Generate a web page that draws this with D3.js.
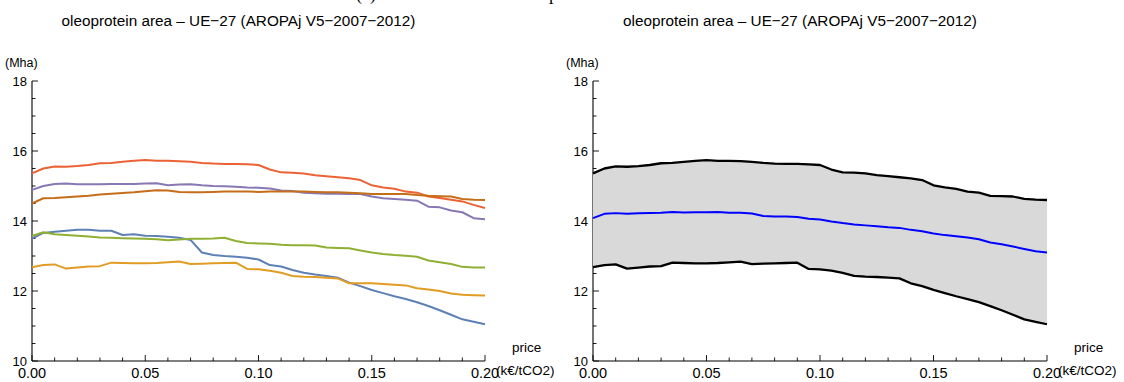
<!DOCTYPE html>
<html>
<head>
<meta charset="utf-8">
<script src="https://cdn.jsdelivr.net/npm/d3@7"></script>
<style>
  body { margin: 0; background: #fff; }
  svg { display: block; font-family: "Liberation Sans", Arial, sans-serif; }
</style>
</head>
<body>
<svg id="chart" width="1124" height="382"></svg>
<script>
// price grid (k€/tCO2)
const prices = d3.range(41).map(i => +(i * 0.005).toFixed(3));

// oleoprotein area (Mha) per model run
const blue = [13.50,13.66,13.69,13.72,13.75,13.75,13.72,13.72,13.60,13.62,13.58,13.57,13.55,13.52,13.46,13.10,13.03,13.00,12.98,12.95,12.90,12.74,12.70,12.60,12.52,12.47,12.43,12.38,12.24,12.14,12.03,11.94,11.85,11.77,11.68,11.57,11.45,11.32,11.19,11.12,11.05];
const orange = [12.68,12.74,12.76,12.64,12.67,12.70,12.71,12.81,12.80,12.79,12.79,12.80,12.82,12.84,12.77,12.78,12.79,12.80,12.81,12.63,12.62,12.58,12.52,12.43,12.41,12.40,12.38,12.36,12.22,12.22,12.22,12.20,12.18,12.16,12.08,12.04,12.00,11.93,11.89,11.88,11.87];
const green = [13.57,13.68,13.62,13.60,13.58,13.56,13.53,13.52,13.51,13.50,13.49,13.48,13.45,13.47,13.49,13.49,13.50,13.52,13.43,13.37,13.36,13.35,13.32,13.31,13.31,13.30,13.24,13.23,13.22,13.16,13.10,13.06,13.03,13.01,12.98,12.87,12.82,12.77,12.69,12.67,12.67];
const red = [15.36,15.50,15.56,15.55,15.57,15.60,15.65,15.66,15.69,15.72,15.74,15.72,15.72,15.71,15.69,15.66,15.64,15.63,15.63,15.62,15.60,15.47,15.39,15.38,15.36,15.31,15.28,15.25,15.22,15.17,15.02,14.96,14.92,14.84,14.81,14.70,14.66,14.61,14.56,14.46,14.37];
const purple = [14.89,15.00,15.06,15.07,15.05,15.05,15.05,15.06,15.06,15.06,15.07,15.08,15.02,15.04,15.05,15.02,15.00,14.99,14.98,14.96,14.95,14.93,14.87,14.86,14.81,14.79,14.78,14.78,14.77,14.77,14.70,14.65,14.63,14.61,14.58,14.41,14.39,14.30,14.25,14.08,14.05];
const darkOrange = [14.50,14.65,14.66,14.68,14.70,14.72,14.76,14.78,14.80,14.82,14.85,14.88,14.87,14.83,14.82,14.82,14.83,14.84,14.84,14.84,14.83,14.84,14.84,14.84,14.84,14.83,14.82,14.82,14.81,14.79,14.77,14.77,14.77,14.77,14.74,14.72,14.71,14.70,14.63,14.61,14.60];

const series = [blue, orange, green, red, purple, darkOrange];
const colors = ["#5e81b5", "#e19c24", "#8fb032", "#eb6235", "#8778b3", "#c56e1a"];

const xTicks = [0, 0.05, 0.10, 0.15, 0.20];
const yTicks = [10, 12, 14, 16, 18];
const title = "oleoprotein area \u2013 UE\u221227 (AROPAj V5\u22122007\u22122012)";

const svg = d3.select("#chart");

// fragments of the caption line above the figure
svg.append("text").attr("x", 356).attr("y", 0).attr("font-family", "Liberation Serif, serif")
  .attr("font-size", 18).text("(a)");
svg.append("text").attr("x", 549).attr("y", 0).attr("font-family", "Liberation Serif, serif")
  .attr("font-size", 18).text("p");

function panel(left, right) {
  const x = d3.scaleLinear().domain([0, 0.2]).range([left, right]);
  const y = d3.scaleLinear().domain([10, 18]).range([361, 81]);
  const g = svg.append("g");

  g.append("text")
    .attr("x", (left + right) / 2 - 20).attr("y", 26)
    .attr("text-anchor", "middle").attr("font-size", 15.3)
    .text(title);

  // x axis
  const xa = g.append("g").attr("transform", `translate(0,${y(10)})`);
  xa.append("line").attr("x1", x(0)).attr("x2", x(0.2)).attr("stroke", "#000").attr("stroke-width", 1.1);
  xa.selectAll("line.minor").data(d3.range(21).map(i => i * 0.01)).join("line")
    .attr("class", "minor")
    .attr("x1", d => x(d)).attr("x2", d => x(d))
    .attr("y1", 0).attr("y2", (d, i) => i % 5 === 0 ? -6 : -3.5)
    .attr("stroke", "#000").attr("stroke-width", 0.9);
  xa.selectAll("text").data(xTicks).join("text")
    .attr("x", d => x(d)).attr("y", 17)
    .attr("text-anchor", "middle").attr("font-size", 14.5)
    .text(d => d3.format(".2f")(d));

  // y axis
  const ya = g.append("g").attr("transform", `translate(${x(0)},0)`);
  ya.append("line").attr("y1", y(10)).attr("y2", y(18)).attr("stroke", "#000").attr("stroke-width", 1.1);
  ya.selectAll("line.minor").data(d3.range(17).map(i => 10 + i * 0.5)).join("line")
    .attr("class", "minor")
    .attr("y1", d => y(d)).attr("y2", d => y(d))
    .attr("x1", 0).attr("x2", (d, i) => i % 4 === 0 ? 6 : 3.5)
    .attr("stroke", "#000").attr("stroke-width", 0.9);
  ya.selectAll("text").data(yTicks).join("text")
    .attr("x", -5).attr("y", d => y(d) + 4.5)
    .attr("text-anchor", "end").attr("font-size", 13)
    .text(d => d);

  g.append("text").attr("x", x(0) - 27).attr("y", 67).attr("font-size", 12.5).text("(Mha)");
  g.append("text").attr("x", x(0.2) + 27).attr("y", 352).attr("font-size", 13.5).text("price");
  g.append("text").attr("x", x(0.2) + 11).attr("y", 375).attr("font-size", 13.5).text("(k\u20ac/tCO2)");

  return { g, x, y };
}

// left panel: every run
{
  const { g, x, y } = panel(32, 485);
  const line = d3.line().x((d, i) => x(prices[i])).y(d => y(d));
  series.forEach((s, k) => {
    g.append("path").datum(s)
      .attr("fill", "none").attr("stroke", colors[k])
      .attr("stroke-width", 2).attr("stroke-linejoin", "round")
      .attr("d", line);
  });
}

// right panel: envelope and mean
{
  const { g, x, y } = panel(593, 1047);
  const hi = prices.map((p, i) => d3.max(series, s => s[i]));
  const lo = prices.map((p, i) => d3.min(series, s => s[i]));
  const mean = prices.map((p, i) => d3.mean(series, s => s[i]));
  const area = d3.area().x((d, i) => x(prices[i])).y0((d, i) => y(lo[i])).y1((d, i) => y(hi[i]));
  const line = d3.line().x((d, i) => x(prices[i])).y(d => y(d));
  g.append("path").datum(prices).attr("fill", "#d9d9d9").attr("d", area);
  [hi, lo].forEach(s => {
    g.append("path").datum(s).attr("fill", "none").attr("stroke", "#000")
      .attr("stroke-width", 2.3).attr("stroke-linejoin", "round").attr("d", line);
  });
  g.append("path").datum(mean).attr("fill", "none").attr("stroke", "#0000ff")
    .attr("stroke-width", 2).attr("stroke-linejoin", "round").attr("d", line);
}
</script>
</body>
</html>
